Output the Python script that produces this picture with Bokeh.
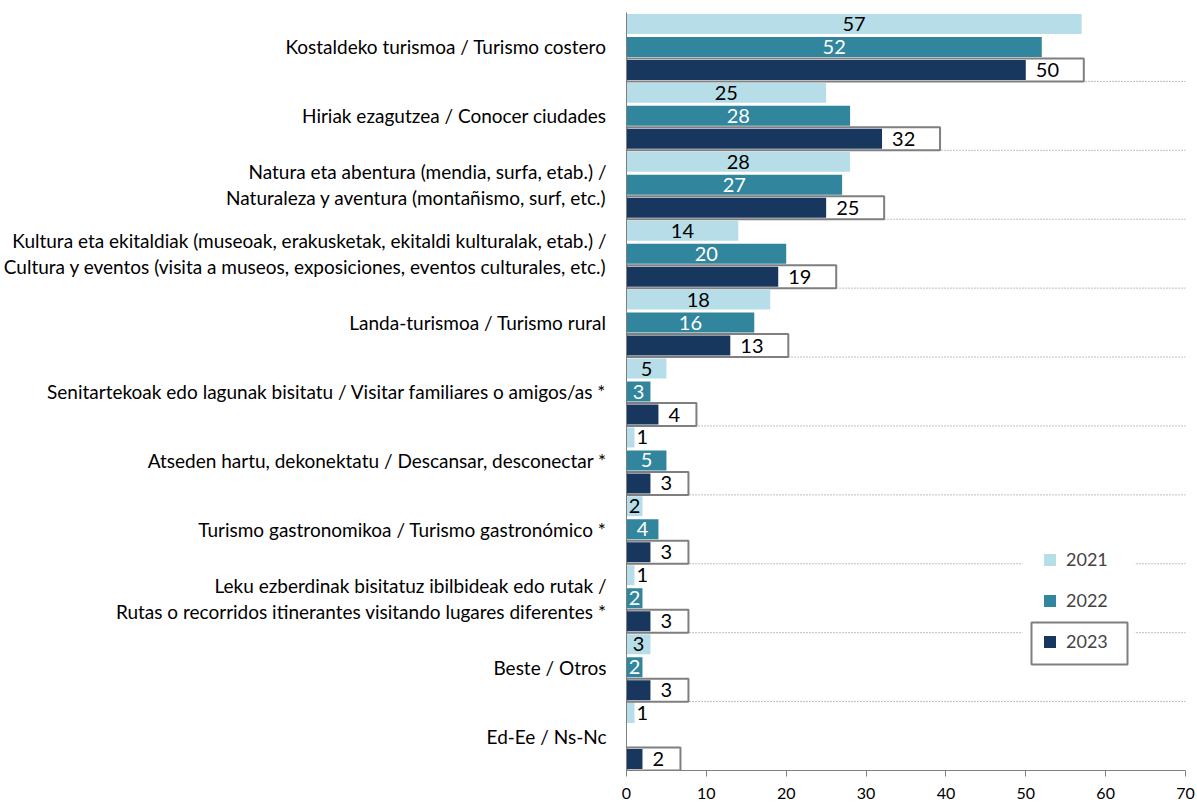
import math
from bokeh.plotting import figure
from bokeh.models import (FactorRange, ColumnDataSource, Legend, LegendItem,
                          FixedTicker)
from bokeh.transform import dodge
from bokeh.embed import file_html
from bokeh.resources import INLINE
from bokeh.core.properties import value

# ---------------- data ----------------
categories = [
    "Kostaldeko turismoa / Turismo costero",
    "Hiriak ezagutzea / Conocer ciudades",
    "Natura eta abentura (mendia, surfa, etab.) /\nNaturaleza y aventura (montañismo, surf, etc.)",
    "Kultura eta ekitaldiak (museoak, erakusketak, ekitaldi kulturalak, etab.) /\nCultura y eventos (visita a museos, exposiciones, eventos culturales, etc.)",
    "Landa-turismoa / Turismo rural",
    "Senitartekoak edo lagunak bisitatu / Visitar familiares o amigos/as *",
    "Atseden hartu, dekonektatu / Descansar, desconectar *",
    "Turismo gastronomikoa / Turismo gastronómico *",
    "Leku ezberdinak bisitatuz ibilbideak edo rutak /\nRutas o recorridos itinerantes visitando lugares diferentes *",
    "Beste / Otros",
    "Ed-Ee / Ns-Nc",
]
years = ["2021", "2022", "2023"]
v2021 = [57, 25, 28, 14, 18, 5, 1, 2, 1, 3, 1]
v2022 = [52, 28, 27, 20, 16, 3, 5, 4, 2, 2, float("nan")]
v2023 = [50, 32, 25, 19, 13, 4, 3, 3, 3, 3, 2]
x_ticks = [0, 10, 20, 30, 40, 50, 60, 70]

# ---------------- style ----------------
FONT = "Lato"
C21, C22, C23 = "#b7dee8", "#31859c", "#17375e"
GRAY = "#7f7f7f"
X_MAX = 70
FRAME_W, FRAME_H = 559, 758
TOP = 12
LEFT = 625
PPU = FRAME_W / X_MAX
N = len(categories)
UPX = N / FRAME_H  # y units per px


def px_x(px):
    return (px - LEFT) / PPU


def px_y(py):
    return N - (py - TOP) * UPX


keys = categories
y_range = FactorRange(factors=list(reversed(keys)), range_padding=0)

p = figure(y_range=y_range, x_range=(0, X_MAX),
           frame_width=FRAME_W, frame_height=FRAME_H,
           min_border_left=LEFT, min_border_right=12,
           min_border_top=TOP, min_border_bottom=32,
           output_backend="svg", toolbar_location=None)
p.outline_line_color = None
p.xgrid.visible = False
p.ygrid.visible = False
p.background_fill_color = "white"
p.border_fill_color = "white"

# axes
p.xaxis.ticker = FixedTicker(ticks=x_ticks)
p.xaxis.axis_line_color = GRAY
p.xaxis.major_tick_line_color = GRAY
p.xaxis.major_tick_out = 6
p.xaxis.major_tick_in = 0
p.xaxis.minor_tick_line_color = None
p.xaxis.major_label_text_font = FONT
p.xaxis.major_label_text_font_size = "16px"
p.xaxis.major_label_text_color = "#000000"
p.xaxis.major_label_standoff = 11

p.yaxis.axis_line_color = GRAY
p.yaxis.major_tick_line_color = None
p.yaxis.major_label_text_font = FONT
p.yaxis.major_label_text_font_size = "19px"
p.yaxis.major_label_text_color = "#000000"
p.yaxis.major_label_text_line_height = 1.12
p.yaxis.major_label_standoff = 14

# dotted separators between categories
sep = ColumnDataSource(dict(cat=keys[:-1], x0=[0] * (N - 1), x1=[X_MAX] * (N - 1)))
p.segment(x0="x0", x1="x1", y0=dodge("cat", -0.5, range=y_range),
          y1=dodge("cat", -0.5, range=y_range), source=sep,
          line_color=GRAY, line_width=1, line_dash="1 2")

OFF = 23 * UPX
BH = 20 * UPX

# label boxes for 2023
box_right = [v + (18 + 20 * len(str(v))) / PPU for v in v2023]
src = ColumnDataSource(dict(cat=keys, v2021=v2021, v2022=v2022, v2023=v2023,
                            box_left=[-3 / PPU] * N, box_right=box_right))
p.hbar(y=dodge("cat", -OFF, range=y_range), left="box_left", right="box_right",
       height=23 * UPX, source=src, fill_color="white", line_color=GRAY, line_width=2)

r21 = p.hbar(y=dodge("cat", OFF, range=y_range), left=0, right="v2021", height=BH,
             source=src, fill_color=C21, line_color=None)
r22 = p.hbar(y=dodge("cat", 0, range=y_range), left=0, right="v2022", height=BH,
             source=src, fill_color=C22, line_color=None)
r23 = p.hbar(y=dodge("cat", -OFF, range=y_range), left=0, right="v2023", height=BH,
             source=src, fill_color=C23, line_color=None)

# value labels
def lab(v):
    return str(int(v))

c21 = [(k, v) for k, v in zip(keys, v2021) if v >= 2]
o21 = [(k, v) for k, v in zip(keys, v2021) if v < 2]
s21c = ColumnDataSource(dict(cat=[a for a, _ in c21], x=[v / 2 for _, v in c21], t=[lab(v) for _, v in c21]))
s21o = ColumnDataSource(dict(cat=[a for a, _ in o21], x=[v for _, v in o21], t=[lab(v) for _, v in o21]))
c22 = [(k, v) for k, v in zip(keys, v2022) if not math.isnan(v)]
s22 = ColumnDataSource(dict(cat=[a for a, _ in c22], x=[v / 2 for _, v in c22], t=[lab(v) for _, v in c22]))
s23 = ColumnDataSource(dict(cat=keys, x=v2023, t=[lab(v) for v in v2023]))

common = dict(text="t", text_baseline="middle", text_font=value(FONT), text_font_size="20px")
p.text(x="x", y=dodge("cat", OFF, range=y_range), source=s21c, text_align="center",
       text_color="#000000", **common)
p.text(x="x", y=dodge("cat", OFF, range=y_range), source=s21o, text_align="left",
       x_offset=2, text_color="#000000", **common)
p.text(x="x", y=dodge("cat", 0, range=y_range), source=s22, text_align="center",
       text_color="#ffffff", **common)
p.text(x="x", y=dodge("cat", -OFF, range=y_range), source=s23, text_align="left",
       x_offset=10, text_color="#000000", **common)

# white patch behind the legend (breaks the dotted lines) and frame of 2023 entry
deco = ColumnDataSource(dict(l=[px_x(1021), px_x(1030)], r=[px_x(1133), px_x(1126)],
                             b=[px_y(672), px_y(664)], t=[px_y(545), px_y(622)],
                             fc=["white", "white"], fa=[1.0, 0.0],
                             lc=["white", GRAY], lw=[0, 2]))
p.quad(left="l", right="r", bottom="b", top="t", source=deco, fill_color="fc",
       fill_alpha="fa", line_color="lc", line_width="lw")

# legend
legend = Legend(items=[LegendItem(label=y, renderers=[r]) for y, r in zip(years, [r21, r22, r23])],
                location=(416, 118), orientation="vertical",
                padding=20, margin=0, spacing=19, border_line_color=None,
                background_fill_alpha=0.0,
                glyph_width=15, glyph_height=15, label_standoff=9,
                label_text_font=FONT, label_text_font_size="18px", label_height=18)
p.add_layout(legend)

open("out.html", "w").write(file_html(p, INLINE))
